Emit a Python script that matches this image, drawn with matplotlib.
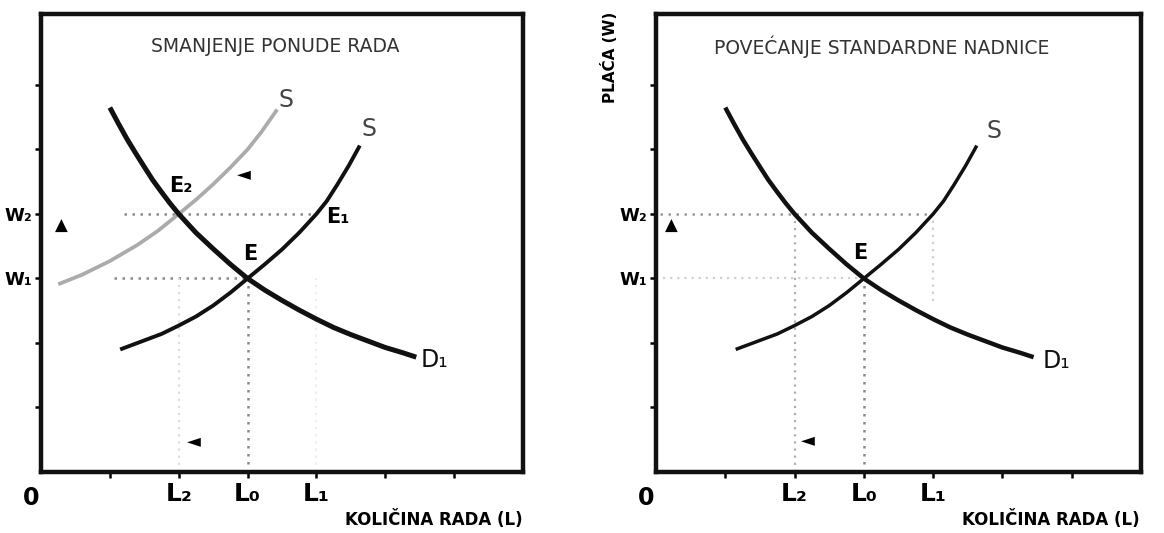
import matplotlib
matplotlib.use("Agg")
import matplotlib.pyplot as plt

# labour market diagrams: wage (W) against quantity of labour (L)
demand_x = [1.0, 1.12, 1.25, 1.37, 1.5, 1.62, 1.75, 1.87, 2.0, 2.25, 2.5, 2.75,
            3.0, 3.25, 3.5, 3.75, 4.0, 4.25, 4.5, 4.75, 5.0, 5.25, 5.45]
demand_y = [5.65, 5.41, 5.16, 4.95, 4.73, 4.53, 4.34, 4.17, 4.0, 3.71, 3.46, 3.22,
            3.0, 2.82, 2.66, 2.51, 2.37, 2.24, 2.13, 2.03, 1.93, 1.85, 1.78]

supply_x = [1.15, 1.5, 1.75, 2.0, 2.25, 2.5, 2.75, 3.0, 3.25, 3.5, 3.75, 4.0,
            4.15, 4.3, 4.47, 4.63]
supply_y = [1.9, 2.04, 2.14, 2.27, 2.41, 2.58, 2.78, 3.0, 3.22, 3.45, 3.71, 4.0,
            4.2, 4.45, 4.75, 5.06]

# reduced supply (left panel only)
supply2_x = [0.25, 0.6, 1.0, 1.4, 1.7, 2.0, 2.25, 2.5, 2.75, 3.0, 3.2, 3.43]
supply2_y = [2.91, 3.06, 3.27, 3.52, 3.74, 4.0, 4.22, 4.46, 4.72, 5.0, 5.27, 5.62]

w1, w2 = 3.0, 4.0
l2, l0, l1 = 2.0, 3.0, 4.0

tick_pos = [1, 2, 3, 4, 5, 6]
x_tick_labels = ['', 'L₂', 'L₀', 'L₁', '', '']
y_tick_labels = ['', '', 'W₁', 'W₂', '', '']

titles = ['SMANJENJE PONUDE RADA', 'POVEĆANJE STANDARDNE NADNICE']
x_label = 'KOLIČINA RADA (L)'
y_label = 'PLAĆA (W)'

DOT = (0, (1, 2.2))


def setup_axes(ax, title, title_x):
    ax.set_xlim(0, 7)
    ax.set_ylim(0, 7.1)
    for sp in ax.spines.values():
        sp.set_linewidth(3.2)
        sp.set_color('#111111')
    ax.set_xticks(tick_pos)
    ax.set_xticklabels(x_tick_labels, fontsize=18, fontweight='bold')
    ax.set_yticks(tick_pos)
    ax.set_yticklabels(y_tick_labels, fontsize=13, fontweight='bold')
    ax.tick_params(axis='x', direction='out', length=4.5, width=1.8, pad=3)
    ax.tick_params(axis='y', direction='out', length=4, width=1.8, pad=2)
    ax.text(title_x, 6.6, title, ha='center', va='center', fontsize=13.5,
            color='#333333')
    ax.text(-0.14, -0.4, '0', ha='center', va='center', fontsize=17,
            fontweight='bold', clip_on=False)
    ax.text(4.42, -0.74, x_label, ha='left', va='center', fontsize=12,
            fontweight='bold', clip_on=False)


fig = plt.figure(figsize=(11.64, 5.33), dpi=100)
ax1 = fig.add_axes([41 / 1164, 61 / 533, 482 / 1164, 458 / 533])
ax2 = fig.add_axes([656 / 1164, 61 / 533, 485 / 1164, 458 / 533])

# ---- left panel: decrease of labour supply
setup_axes(ax1, titles[0], 3.4)
ax1.plot([1.21, l1], [w2, w2], ls=DOT, lw=1.8, color='#8a8a8a', zorder=1)
ax1.plot([1.06, l0], [w1, w1], ls=DOT, lw=1.8, color='#8a8a8a', zorder=1)
ax1.plot([l0, l0], [0, w1], ls=DOT, lw=1.8, color='#8a8a8a', zorder=1)
ax1.plot([l2, l2], [0, w1], ls=DOT, lw=1.6, color='#dddddd', zorder=1)
ax1.plot([l1, l1], [0, w1], ls=DOT, lw=1.6, color='#eeeeee', zorder=1)

ax1.plot(supply2_x, supply2_y, color='#ababab', lw=2.7, solid_capstyle='butt',
         solid_joinstyle='round', zorder=2)
ax1.plot(supply_x, supply_y, color='#111111', lw=2.8, solid_capstyle='butt',
         solid_joinstyle='round', zorder=3)
ax1.plot(demand_x, demand_y, color='#111111', lw=3.6, solid_capstyle='butt',
         solid_joinstyle='round', zorder=4)

ax1.text(1.86, 4.43, 'E₂', ha='left', va='center', fontsize=15, fontweight='bold')
ax1.text(4.14, 3.95, 'E₁', ha='left', va='center', fontsize=15, fontweight='bold')
ax1.text(2.93, 3.38, 'E', ha='left', va='center', fontsize=15, fontweight='bold')
ax1.text(3.45, 5.76, 'S', ha='left', va='center', fontsize=17, color='#444444')
ax1.text(4.66, 5.31, 'S', ha='left', va='center', fontsize=17, color='#444444')
ax1.text(5.52, 1.73, 'D₁', ha='left', va='center', fontsize=17, color='#111111')
ax1.text(0.3, 3.82, '▲', ha='center', va='center', fontsize=12)
ax1.text(2.95, 4.62, '◄', ha='center', va='center', fontsize=13)
ax1.text(2.22, 0.48, '◄', ha='center', va='center', fontsize=13)

# ---- right panel: increase of standard wage
setup_axes(ax2, titles[1], 3.26)
ax2.plot([0.06, l1], [w2, w2], ls=DOT, lw=1.8, color='#9a9a9a', zorder=1)
ax2.plot([0.1, l0], [w1, w1], ls=DOT, lw=1.6, color='#d0d0d0', zorder=1)
ax2.plot([l2, l2], [0, w2], ls=DOT, lw=1.6, color='#b0b0b0', zorder=1)
ax2.plot([l0, l0], [0, w1], ls=DOT, lw=1.8, color='#8a8a8a', zorder=1)
ax2.plot([l1, l1], [2.65, w2], ls=DOT, lw=1.6, color='#d0d0d0', zorder=1)

ax2.plot(supply_x, supply_y, color='#111111', lw=2.5, solid_capstyle='butt',
         solid_joinstyle='round', zorder=3)
ax2.plot(demand_x, demand_y, color='#111111', lw=3.2, solid_capstyle='butt',
         solid_joinstyle='round', zorder=4)

ax2.text(2.84, 3.39, 'E', ha='left', va='center', fontsize=15, fontweight='bold')
ax2.text(4.77, 5.29, 'S', ha='left', va='center', fontsize=17, color='#444444')
ax2.text(5.58, 1.72, 'D₁', ha='left', va='center', fontsize=17, color='#111111')
ax2.text(0.22, 3.82, '▲', ha='center', va='center', fontsize=12)
ax2.text(2.19, 0.5, '◄', ha='center', va='center', fontsize=13)
ax2.text(-0.095, 0.906, y_label, transform=ax2.transAxes, rotation=90,
         ha='center', va='center', fontsize=11, fontweight='bold')

fig.savefig('out.png', dpi=100)
